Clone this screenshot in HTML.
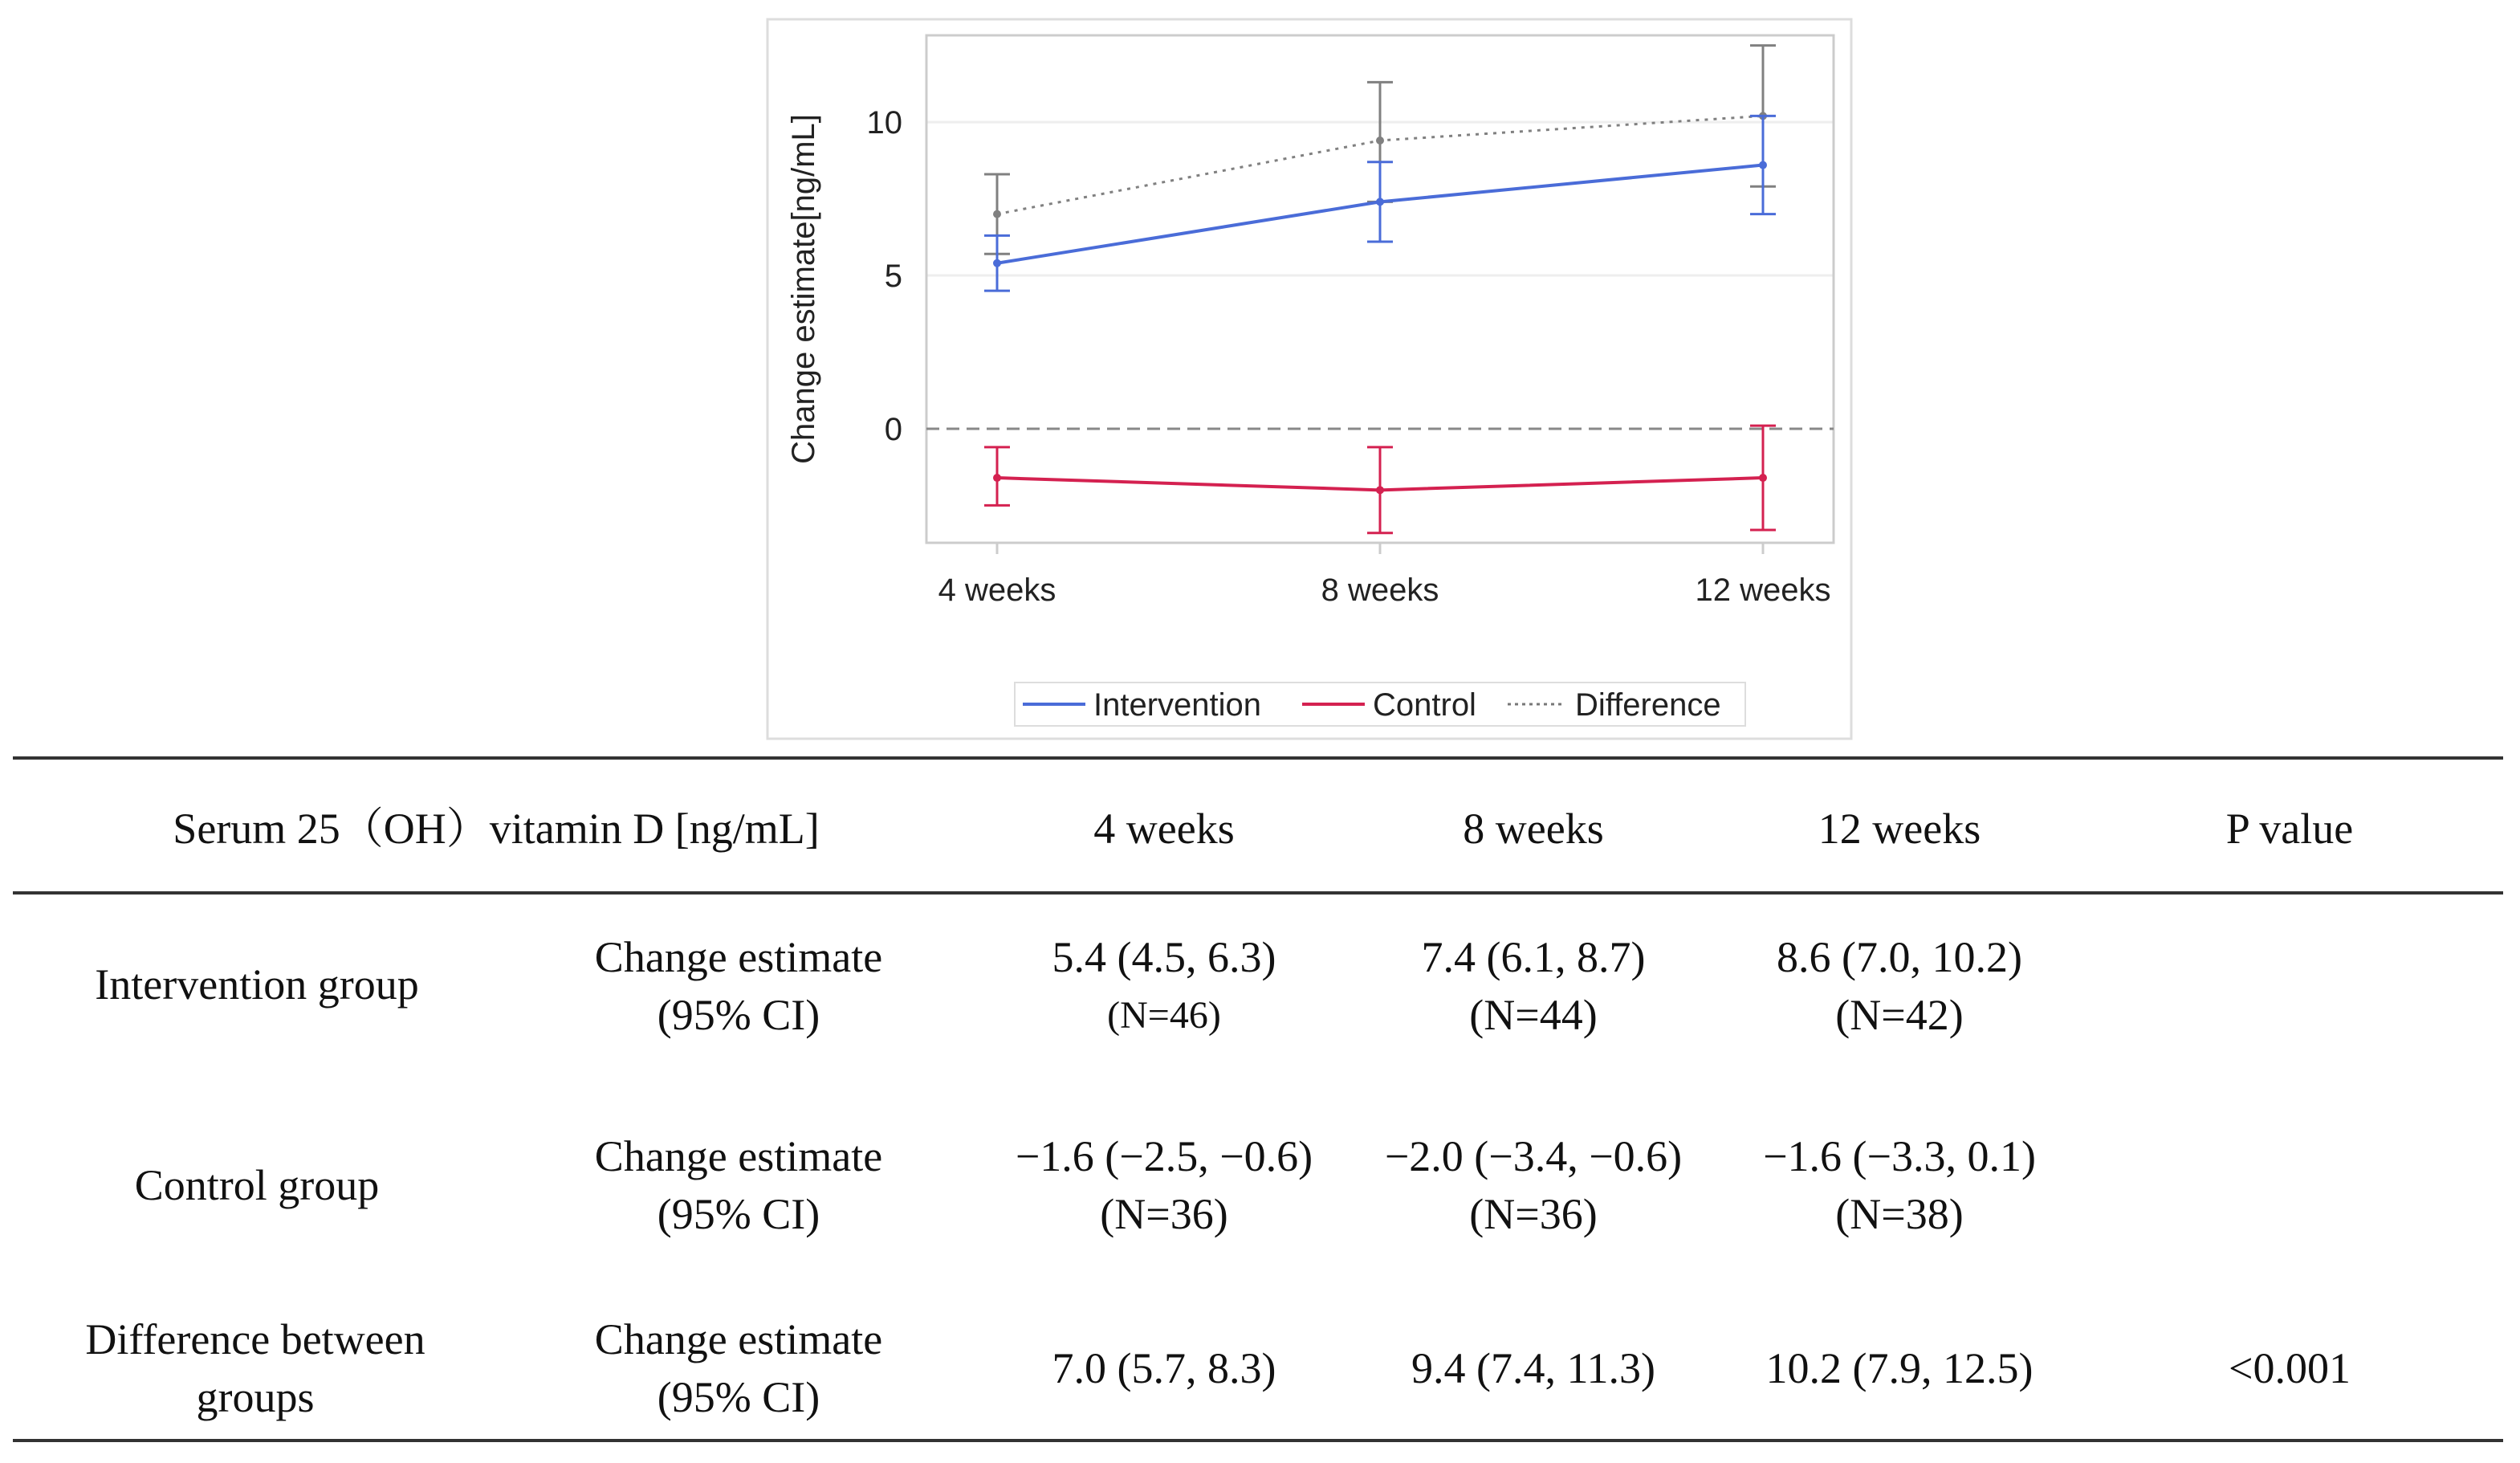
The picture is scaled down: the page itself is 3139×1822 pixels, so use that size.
<!DOCTYPE html>
<html><head><meta charset="utf-8"><style>
html,body{margin:0;padding:0;background:#fff;}
svg{display:block;}
.t{font-family:"Liberation Serif","Noto Serif CJK SC",serif;font-size:54px;fill:#111;text-anchor:middle;}
.a{font-family:"Liberation Sans",sans-serif;font-size:40px;fill:#222;}
</style></head><body>
<svg id="svg" width="3139" height="1822" viewBox="0 0 3139 1822" xmlns="http://www.w3.org/2000/svg">
<rect x="956" y="24" width="1350" height="896" fill="#fff" stroke="#ddd" stroke-width="3"/>
<g id="plot"></g>
<g>
<rect x="1264" y="850" width="910" height="54" fill="#fff" stroke="#ddd" stroke-width="2"/>
<line x1="1274" y1="877" x2="1352" y2="877" stroke="#4a6cd8" stroke-width="4"/>
<text class="a" x="1362" y="891">Intervention</text>
<line x1="1622" y1="877" x2="1700" y2="877" stroke="#d42150" stroke-width="4"/>
<text class="a" x="1710" y="891">Control</text>
<line x1="1878" y1="877" x2="1950" y2="877" stroke="#777" stroke-width="3" stroke-dasharray="4,5"/>
<text class="a" x="1962" y="891">Difference</text>
</g>
<g>
<line x1="16" y1="944" x2="3118" y2="944" stroke="#333" stroke-width="4"/>
<line x1="16" y1="1112" x2="3118" y2="1112" stroke="#333" stroke-width="4"/>
<line x1="16" y1="1794" x2="3118" y2="1794" stroke="#333" stroke-width="4"/>
<text class="t" x="618" y="1050">Serum 25（OH）vitamin D [ng/mL]</text>
<text class="t" x="1450" y="1050">4 weeks</text>
<text class="t" x="1910" y="1050">8 weeks</text>
<text class="t" x="2366" y="1050">12 weeks</text>
<text class="t" x="2852" y="1050">P value</text>

<text class="t" x="320" y="1244">Intervention group</text>
<text class="t" x="920" y="1210">Change estimate</text>
<text class="t" x="920" y="1282">(95% CI)</text>
<text class="t" x="1450" y="1210">5.4 (4.5, 6.3)</text>
<text class="t" x="1450" y="1280" style="font-size:48px">(N=46)</text>
<text class="t" x="1910" y="1210">7.4 (6.1, 8.7)</text>
<text class="t" x="1910" y="1282">(N=44)</text>
<text class="t" x="2366" y="1210">8.6 (7.0, 10.2)</text>
<text class="t" x="2366" y="1282">(N=42)</text>

<text class="t" x="320" y="1494">Control group</text>
<text class="t" x="920" y="1458">Change estimate</text>
<text class="t" x="920" y="1530">(95% CI)</text>
<text class="t" x="1450" y="1458">−1.6 (−2.5, −0.6)</text>
<text class="t" x="1450" y="1530">(N=36)</text>
<text class="t" x="1910" y="1458">−2.0 (−3.4, −0.6)</text>
<text class="t" x="1910" y="1530">(N=36)</text>
<text class="t" x="2366" y="1458">−1.6 (−3.3, 0.1)</text>
<text class="t" x="2366" y="1530">(N=38)</text>

<text class="t" x="318" y="1686">Difference between</text>
<text class="t" x="318" y="1758">groups</text>
<text class="t" x="920" y="1686">Change estimate</text>
<text class="t" x="920" y="1758">(95% CI)</text>
<text class="t" x="1450" y="1722">7.0 (5.7, 8.3)</text>
<text class="t" x="1910" y="1722">9.4 (7.4, 11.3)</text>
<text class="t" x="2366" y="1722">10.2 (7.9, 12.5)</text>
<text class="t" x="2852" y="1722">&lt;0.001</text>
</g>
</svg>
<script>
const categories = ["4 weeks", "8 weeks", "12 weeks"];
const yTicks = [0, 5, 10];
const intEst = [5.4, 7.4, 8.6];
const intLo = [4.5, 6.1, 7.0];
const intHi = [6.3, 8.7, 10.2];
const ctlEst = [-1.6, -2.0, -1.6];
const ctlLo = [-2.5, -3.4, -3.3];
const ctlHi = [-0.6, -0.6, 0.1];
const diffEst = [7.0, 9.4, 10.2];
const diffLo = [5.7, 7.4, 7.9];
const diffHi = [8.3, 11.3, 12.5];

const NS = "http://www.w3.org/2000/svg";
const g = document.getElementById("plot");
const L = 1154, R = 2284, T = 44, B = 676;
const yMin = -3.72, yMax = 12.83;
const y = v => B - (v - yMin) / (yMax - yMin) * (B - T);
const x = i => 1242 + i * 477;
function mk(tag, attrs) {
  const e = document.createElementNS(NS, tag);
  for (const k in attrs) e.setAttribute(k, attrs[k]);
  g.appendChild(e);
  return e;
}
yTicks.forEach((t, i) => {
  if (t !== 0) {
    const gl = mk("line", {x1: L, x2: R, y1: y(t), y2: y(t), stroke: "#eee", "stroke-width": 3});
    
    
  }
  const tk = mk("text", {x: 1124, y: y(t) + 14, "text-anchor": "end", class: "a"});
  tk.textContent = t;
  
  
});
const fr = mk("rect", {x: L, y: T, width: R - L, height: B - T, fill: "none", stroke: "#ccc", "stroke-width": 3});


const zl = mk("line", {x1: L, x2: R, y1: y(0), y2: y(0), stroke: "#888", "stroke-width": 3, "stroke-dasharray": "16,9"});


categories.forEach((c, i) => {
  const tm = mk("line", {x1: x(i), x2: x(i), y1: B, y2: B + 14, stroke: "#ccc", "stroke-width": 3});
  
  
  const tl = mk("text", {x: x(i), y: 748, "text-anchor": "middle", class: "a"});
  tl.textContent = c;
  
  
});
const yt = mk("text", {x: 0, y: 0, "text-anchor": "middle", class: "a", transform: "translate(1014,360) rotate(-90)"});
yt.textContent = "Change estimate[ng/mL]";



function series(est, lo, hi, color, dash, name) {
  est.forEach((v, i) => {
    const eb = mk("line", {x1: x(i), x2: x(i), y1: y(lo[i]), y2: y(hi[i]), stroke: color, "stroke-width": 3});
    
    
    [lo[i], hi[i]].forEach(b => {
      const cp = mk("line", {x1: x(i) - 16, x2: x(i) + 16, y1: y(b), y2: y(b), stroke: color, "stroke-width": 3});
      
      
    });
  });
  const ln = mk("polyline", {points: est.map((v, i) => x(i) + "," + y(v)).join(" "), fill: "none", stroke: color, "stroke-width": dash ? 3 : 4, "stroke-dasharray": dash || "none"});
  
  
  est.forEach((v, i) => {
    const pt = mk("circle", {cx: x(i), cy: y(v), r: 5, fill: color});
    
    
  });
}
series(diffEst, diffLo, diffHi, "#808080", "4,7", "difference");
series(intEst, intLo, intHi, "#4a6cd8", null, "intervention");
series(ctlEst, ctlLo, ctlHi, "#d42150", null, "control");
</script>
</body></html>
